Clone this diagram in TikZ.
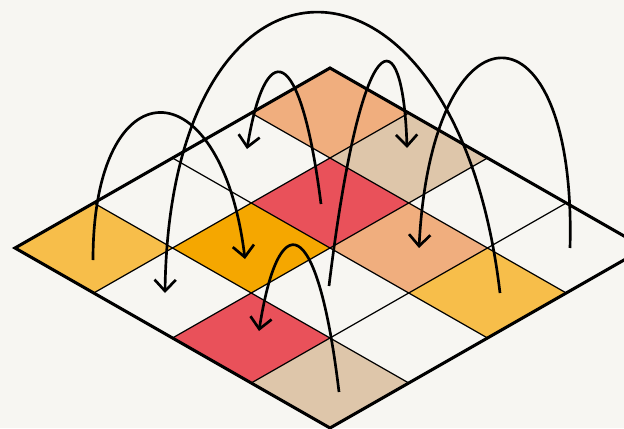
\documentclass[tikz,border=0pt]{standalone}
\usetikzlibrary{arrows.meta}
\definecolor{paper}{HTML}{F7F6F2}
\definecolor{peach}{HTML}{F0AE7E}
\definecolor{sand}{HTML}{DEC6AA}
\definecolor{berry}{HTML}{E9515A}
\definecolor{amber}{HTML}{F5A700}
\definecolor{honey}{HTML}{F7BE4A}
\begin{document}
\begin{tikzpicture}[x=0.75pt, y=-0.75pt,
  thin grid/.style={line width=0.9pt},
  rim/.style={line width=2.3pt, line join=miter},
  hop/.style={line width=2pt, -{Straight Barb[length=8.5pt,width=16pt]}}]
\useasboundingbox (0,0) rectangle (624,428);
\fill[paper] (0,0) rectangle (624,428);
\clip (0,0) rectangle (624,428);
\foreach \i/\j/\col in {0/0/peach,1/0/sand,1/1/berry,2/1/peach,3/1/honey,1/2/amber,0/3/honey,2/3/berry,3/3/sand}
  \fill[\col] ({330+78.75*(\i-\j)},{68+45*(\i+\j)}) -- ++(78.75,45) -- ++(-78.75,45) -- ++(-78.75,-45) -- cycle;
\foreach \k in {1,2,3} {
  \draw[thin grid] ({330+78.75*\k},{68+45*\k}) -- ++(-315,180);
  \draw[thin grid] ({330-78.75*\k},{68+45*\k}) -- ++(315,180);
}
\draw[rim] (330,68) -- (645,248) -- (330,428) -- (15,248) -- cycle;
\coordinate (c03) at (93,260);
\coordinate (c12) at (245,259);
\coordinate (c31) at (500,293);
\coordinate (c13) at (165,293);
\coordinate (c11) at (321,204);
\coordinate (c01) at (247,149);
\coordinate (c22) at (329,286);
\coordinate (c10) at (407,148);
\coordinate (c30) at (570,248);
\coordinate (c21) at (419,248);
\coordinate (c33) at (339,392);
\coordinate (c23) at (259,331);
\draw[hop] (c03) .. controls (93,64) and (221,64) .. (c12);
\draw[hop] (c31) .. controls (456,-81) and (170,-81) .. (c13);
\draw[hop] (c11) .. controls (300,39) and (265,39) .. (c01);
\draw[hop] (c22) .. controls (362,16) and (403,16) .. (c10);
\draw[hop] (c30) .. controls (577,-5) and (432,-5) .. (c21);
\draw[hop] (c33) .. controls (317,208) and (278,208) .. (c23);
\end{tikzpicture}
\end{document}
